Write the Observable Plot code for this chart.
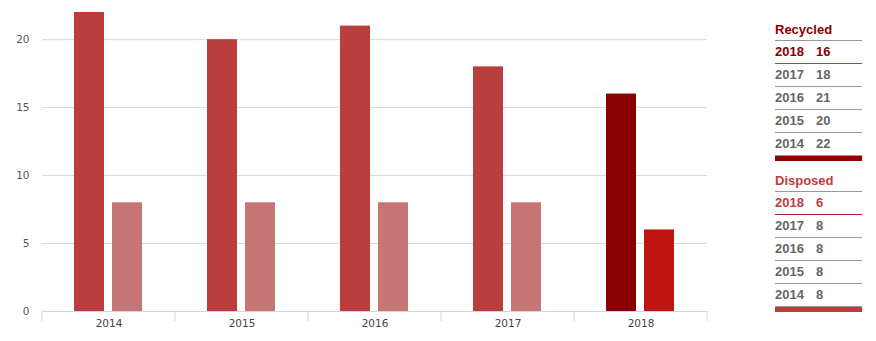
<!DOCTYPE html>
<html>
<head>
<meta charset="utf-8">
<script src="https://cdn.jsdelivr.net/npm/d3@7"></script>
<script src="https://cdn.jsdelivr.net/npm/@observablehq/plot@0.6"></script>
<style>
  html, body { margin: 0; padding: 0; background: #fff; }
  #wrap { position: relative; width: 876px; height: 341px; font-family: "Liberation Sans", Arial, sans-serif; }
  #chart { position: absolute; left: 0; top: 0; }
  .legend { position: absolute; left: 775px; width: 87px; font-weight: bold; font-size: 13px; }
  .legend .title { height: 18px; line-height: 16px; border-bottom: 1px solid #999; }
  .legend .row { height: 22px; line-height: 22px; border-bottom: 1px solid #999; color: #666; }
  .legend .row span { display: inline-block; width: 41px; }
  .legend .bar { height: 5px; }
</style>
</head>
<body>
<div id="wrap">
  <div id="chart"></div>
</div>
<script>
const years = ["2014", "2015", "2016", "2017", "2018"];
const seriesNames = ["Recycled", "Disposed"];
const recycled = [22, 20, 21, 18, 16];
const disposed = [8, 8, 8, 8, 6];
const yTicks = [0, 5, 10, 15, 20];

const latest = years[years.length - 1];
const seriesValues = { Recycled: recycled, Disposed: disposed };
const data = years.flatMap((year, i) =>
  seriesNames.map(s => ({ year, series: s, value: seriesValues[s][i], key: s + (year === latest ? " latest" : "") }))
);

const chart = Plot.plot({
  width: 876,
  height: 341,
  marginLeft: 41,
  marginRight: 169,
  marginTop: 12,
  marginBottom: 30,
  style: { fontFamily: "'DejaVu Sans', Verdana, sans-serif", fontSize: "10.5px", background: "transparent" },
  fx: { domain: years, padding: 0, label: null, axis: null },
  x: { domain: seriesNames, paddingInner: 0.205, paddingOuter: 0.83, axis: null },
  y: { domain: [0, 22], axis: null },
  color: {
    domain: ["Recycled", "Recycled latest", "Disposed", "Disposed latest"],
    range: ["#bb3e3e", "#8b0000", "#c77474", "#bf1510"]
  },
  marks: [
    Plot.gridY(yTicks.filter(t => t > 0), { stroke: "#d8d8d8", strokeOpacity: 1 }),
    Plot.axisY(yTicks, { tickSize: 0, tickPadding: 13, label: null, fill: "#555" }),
    Plot.barY(data, { fx: "year", x: "series", y: "value", fill: "key" }),
    Plot.ruleY([0], { stroke: "#ccd6eb" }),
    Plot.axisFx({ anchor: "bottom", tickSize: 0, tickPadding: 8, label: null, fill: "#444" })
  ]
});
document.getElementById("chart").appendChild(chart);

// category boundary tick marks, placed with Plot's own fx scale
const fx = chart.scale("fx");
const yScale = chart.scale("y");
const base = yScale.apply(0);
const bounds = years.map(y => fx.apply(y)).concat([fx.apply(latest) + fx.bandwidth]);
d3.select(chart).append("g")
  .selectAll("line").data(bounds).join("line")
  .attr("x1", d => d).attr("x2", d => d)
  .attr("y1", base).attr("y2", base + 10)
  .attr("stroke", "#ccd6eb");

// legend tables
const legendSpec = [
  { name: "Recycled", values: recycled, top: 22, titleColor: "#8b0000", latestColor: "#8b0000", latestLine: "#cc3333", barColor: "#8b0000" },
  { name: "Disposed", values: disposed, top: 173, titleColor: "#c23b3b", latestColor: "#c23b3b", latestLine: "#b01e1e", barColor: "#bb3e3e" }
];
const wrap = document.getElementById("wrap");
legendSpec.forEach(spec => {
  const box = document.createElement("div");
  box.className = "legend";
  box.style.top = spec.top + "px";
  const title = document.createElement("div");
  title.className = "title";
  title.style.color = spec.titleColor;
  title.textContent = spec.name;
  box.appendChild(title);
  years.map((y, i) => [y, spec.values[i]]).reverse().forEach(([y, v]) => {
    const row = document.createElement("div");
    row.className = "row";
    if (y === latest) { row.style.color = spec.latestColor; row.style.borderBottomColor = spec.latestLine; }
    const s = document.createElement("span");
    s.textContent = y;
    row.appendChild(s);
    row.appendChild(document.createTextNode(String(v)));
    box.appendChild(row);
  });
  const bar = document.createElement("div");
  bar.className = "bar";
  bar.style.background = spec.barColor;
  box.appendChild(bar);
  wrap.appendChild(box);
});
</script>
</body>
</html>
